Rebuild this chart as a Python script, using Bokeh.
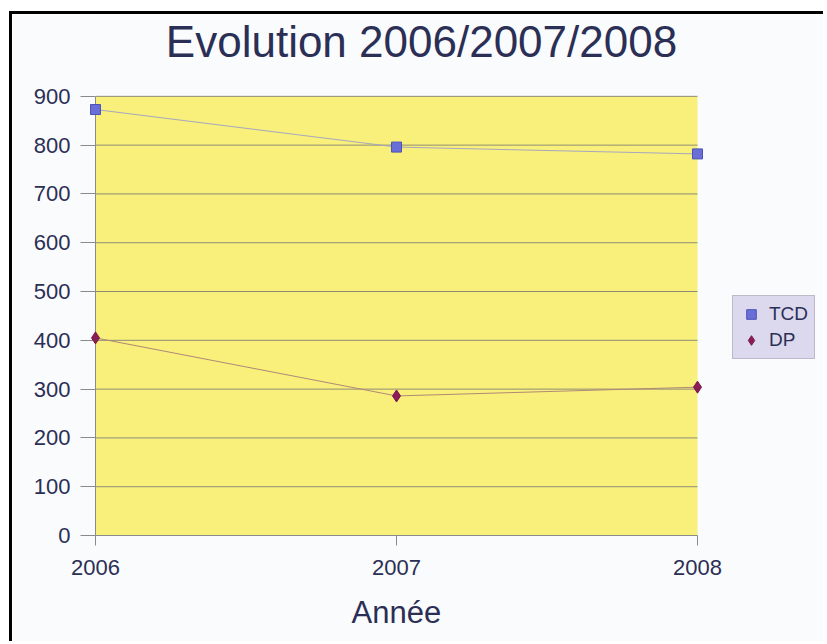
from bokeh.plotting import figure
from bokeh.models import Range1d, FixedTicker, Legend, LegendItem, BoxAnnotation, Label, Title
from bokeh.embed import file_html
from bokeh.resources import INLINE

years = [2006, 2007, 2008]
tcd = [873, 796, 782]
dp = [405, 286, 304]
y_ticks = [0, 100, 200, 300, 400, 500, 600, 700, 800, 900]
title_text = "Evolution 2006/2007/2008"
x_title = "Année"

FONT = "Liberation Sans"
TXT = "#2b2f55"

# canvas geometry (pixels)
W, H = 814, 630
LEFT, BOTTOM = 83, 108          # borders
PLOT_W = 602                    # width of the yellow area (2006..2008)
PLOT_H = 440                    # height of the yellow area (0..900)
frame_w = W - LEFT
frame_h = H - BOTTOM
x0, x1 = years[0], years[-1]
y0, y1 = y_ticks[0], y_ticks[-1]
x_end = x0 + (x1 - x0) * frame_w / PLOT_W
y_end = y0 + (y1 - y0) * frame_h / PLOT_H

p = figure(width=W, height=H, output_backend="svg", toolbar_location=None,
           x_range=Range1d(x0, x_end), y_range=Range1d(y0, y_end),
           min_border_left=LEFT, min_border_right=0, min_border_top=0, min_border_bottom=BOTTOM,
           background_fill_color="#fafbfd", border_fill_color="#fafbfd")
p.styles = {"border-top": "3px solid black", "border-left": "3px solid black",
            "margin-top": "11px", "margin-left": "9px"}
p.outline_line_color = None
p.xgrid.visible = False
p.ygrid.visible = False

# yellow plot area
p.add_layout(BoxAnnotation(left=x0, right=x1, bottom=y0, top=y1,
                           fill_color="#f8f07a", fill_alpha=1, line_color=None,
                           level="underlay"))
# horizontal gridlines
p.segment(x0=[x0] * len(y_ticks), x1=[x1] * len(y_ticks), y0=y_ticks, y1=y_ticks,
          line_color="#8e8c78", line_width=1)

p.yaxis.ticker = FixedTicker(ticks=y_ticks)
p.xaxis.ticker = FixedTicker(ticks=years)
p.yaxis.bounds = (y0, y1)
p.xaxis.bounds = (x0, x1)
for ax in (p.xaxis, p.yaxis):
    ax.axis_line_color = "#8a8a8a"
    ax.major_tick_line_color = "#8a8a8a"
    ax.minor_tick_line_color = None
    ax.major_tick_in = 0
    ax.major_label_text_font = FONT
    ax.major_label_text_font_size = "22px"
    ax.major_label_text_color = TXT
p.yaxis.major_tick_out = 15
p.yaxis.major_label_standoff = 10
p.xaxis.major_tick_out = 10
p.xaxis.major_label_standoff = 14

# x axis title, placed under the axis and centred on the yellow area
p.add_layout(Title(text=x_title, align="left", offset=256, standoff=30,
                   text_font=FONT, text_font_size="31px", text_font_style="normal",
                   text_color=TXT), "below")

# chart title as a label above the plot area
px_x = (x1 - x0) / PLOT_W
px_y = (y1 - y0) / PLOT_H
p.add_layout(Label(x=(x0 + x1) / 2 + 25 * px_x, y=y1 + 55 * px_y, text=title_text,
                   text_align="center", text_baseline="alphabetic",
                   text_font=FONT, text_font_size="44px", text_color=TXT))

l1 = p.line(years, tcd, line_color="#a8a6c0", line_width=1)
l2 = p.line(years, dp, line_color="#b08878", line_width=1)
r1 = p.scatter(years, tcd, marker="square", size=10, fill_color="#6a6fd8", line_color="#4d52b8")
r2 = p.scatter(years, dp, marker="diamond", size=12, fill_color="#8a1d55", line_color="#7a1848")
for r in (l1, l2, r1, r2):
    r.level = "overlay"

legend = Legend(items=[LegendItem(label="TCD", renderers=[r1]),
                       LegendItem(label="DP", renderers=[r2])],
                location=(637, 176))
legend.background_fill_color = "#dcd8ee"
legend.background_fill_alpha = 1
legend.border_line_color = "#9c9aa8"
legend.label_text_font = FONT
legend.label_text_font_size = "19px"
legend.label_text_color = TXT
legend.padding = 6
legend.spacing = 2
legend.margin = 0
legend.label_standoff = 6
legend.glyph_width = 24
legend.glyph_height = 24
p.add_layout(legend, "center")

open("out.html", "w").write(file_html(p, INLINE))
